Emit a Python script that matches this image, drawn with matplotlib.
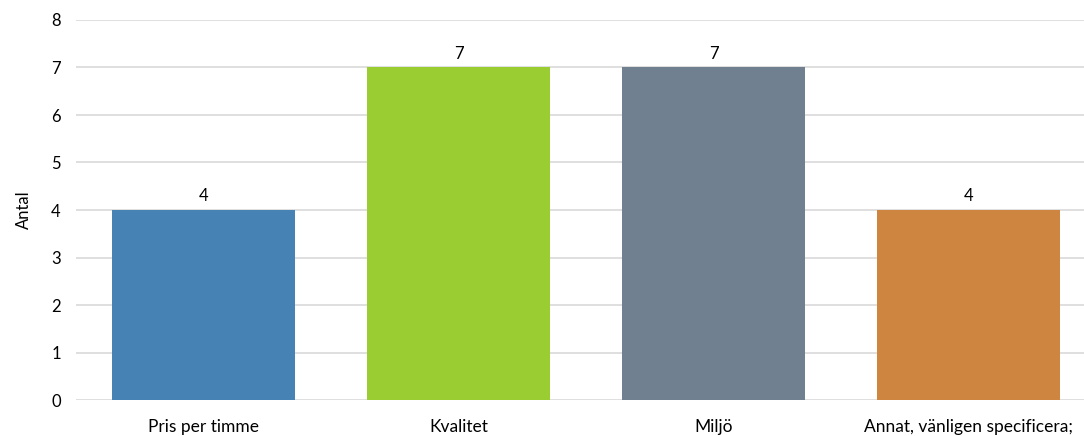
import matplotlib
matplotlib.use("Agg")
import matplotlib.pyplot as plt

# ── Data ──────────────────────────────────────────────────────────────────
categories = ["Pris per timme", "Kvalitet", "Miljö", "Annat, vänligen specificera;"]
counts = [4, 7, 7, 4]
colors = ["#4682B4", "#9ACD32", "#708090", "#CD853F"]

plt.rcParams['font.family'] = ['Lato', 'DejaVu Sans']

# ── Plot ──────────────────────────────────────────────────────────────────
fig = plt.figure(figsize=(10.84, 4.36), dpi=100)
ax = fig.add_axes([76 / 1084, 36 / 436, 1020 / 1084, 380 / 436])

x = range(len(categories))
bars = ax.bar(x, counts, width=0.718, color=colors, zorder=3)

for b, v in zip(bars, counts):
    ax.text(b.get_x() + b.get_width() / 2, v + 0.12, str(v),
            ha='center', va='bottom', fontsize=12, color='#000000')

ax.set_xlim(-0.5, 3.5)
ax.set_ylim(0, 8)
ax.set_yticks(range(0, 9))
ax.set_xticks(list(x))
ax.set_xticklabels(categories, fontsize=12.5)
ax.tick_params(axis='y', length=0, labelsize=12, pad=11)
ax.tick_params(axis='x', length=0, pad=14)
ax.grid(axis='y', color='#d9d9d9', linewidth=1.2, zorder=0)
for s in ax.spines.values():
    s.set_visible(False)

ax.set_ylabel("Antal", fontsize=12, labelpad=14)

fig.savefig("out.png", dpi=100)
